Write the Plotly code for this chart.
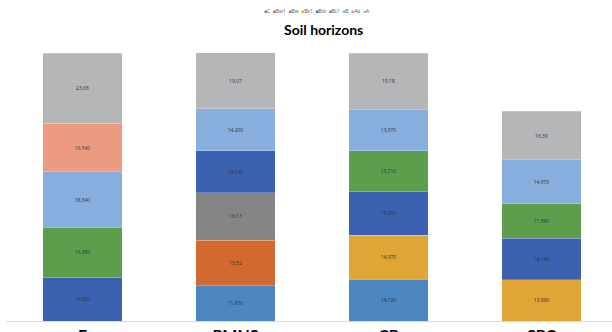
import plotly.graph_objects as go

# Profiles (x categories) and horizon thickness values per profile
profiles = ["F", "PMNS", "CP", "SPC"]

horizons = ["C", "Bw1", "Bw", "Bk1", "Btk", "Bt1", "B", "Ab", "A"]

C_vals   = [None, 11.87, 14.12, None]
Bw1_vals = [None, 15.52, None, None]
Bw_vals  = [None, 16.13, None, None]
Bk1_vals = [None, None, 14.97, 13.99]
Btk_vals = [14.82, 14.19, 14.88, 14.14]
Bt1_vals = [16.88, None, 13.71, 11.56]
B_vals   = [18.84, 14.20, 13.97, 14.97]
Ab_vals  = [16.54, None, None, None]
A_vals   = [23.68, 19.07, 19.18, 16.39]

# Label strings as printed on the segments
C_lbl   = ["", "11,870", "14,120", ""]
Bw1_lbl = ["", "15,52", "", ""]
Bw_lbl  = ["", "16,13", "", ""]
Bk1_lbl = ["", "", "14,970", "13,990"]
Btk_lbl = ["14,820", "14,190", "14,880", "14,140"]
Bt1_lbl = ["16,880", "", "13,710", "11,560"]
B_lbl   = ["18,840", "14,200", "13,970", "14,970"]
Ab_lbl  = ["16,540", "", "", ""]
A_lbl   = ["23,68", "19,07", "19,18", "16,39"]

series = [C_vals, Bw1_vals, Bw_vals, Bk1_vals, Btk_vals, Bt1_vals, B_vals, Ab_vals, A_vals]
labels = [C_lbl, Bw1_lbl, Bw_lbl, Bk1_lbl, Btk_lbl, Bt1_lbl, B_lbl, Ab_lbl, A_lbl]

colors = ["#4c87c2", "#d2692e", "#858585", "#e0a535", "#3a62b0",
          "#5c9e4c", "#88aedd", "#ec9a80", "#b4b6b8"]

fig = go.Figure()
for name, vals, lbl, col in zip(horizons, series, labels, colors):
    fig.add_trace(go.Bar(
        x=profiles, y=vals, name=name,
        text=lbl, textposition="inside", insidetextanchor="middle",
        textfont=dict(size=5, color="#333333", family="Open Sans"),
        marker=dict(color=col, line=dict(width=0.4, color="rgba(255,255,255,0.6)")),
        showlegend=False,
    ))

# Compact legend row built as one annotation
legend_html = "  ".join(
    f'<span style="color:{c}">■</span>{n}' for n, c in zip(horizons, colors)
)

W, H = 620, 360
fig.update_layout(
    width=W, height=H,
    margin=dict(l=6, r=2, t=25.5, b=39),
    barmode="stack", bargap=0.48,
    plot_bgcolor="white", paper_bgcolor="white",
    font=dict(family="Lato", color="#000000"),
    xaxis=dict(showline=True, linecolor="#d9d9d9", linewidth=1,
               ticks="", showgrid=False,
               tickfont=dict(size=16, family="Lato", weight="bold", color="#000")),
    yaxis=dict(range=[0, 100], visible=False, showgrid=False),
    annotations=[
        dict(text=legend_html, xref="paper", yref="paper",
             x=(317 - 6) / 612, y=1 + (25.5 - 10) / 295.5,
             xanchor="center", yanchor="middle", showarrow=False,
             font=dict(size=5, color="#595959", family="Open Sans")),
        dict(text="<b>Soil horizons</b>", xref="paper", yref="paper",
             x=(323 - 6) / 612, y=1 - (29 - 25.5) / 295.5,
             xanchor="center", yanchor="middle", showarrow=False,
             font=dict(size=14, color="#000000", family="Lato")),
    ],
)

fig.write_html("out.html")
